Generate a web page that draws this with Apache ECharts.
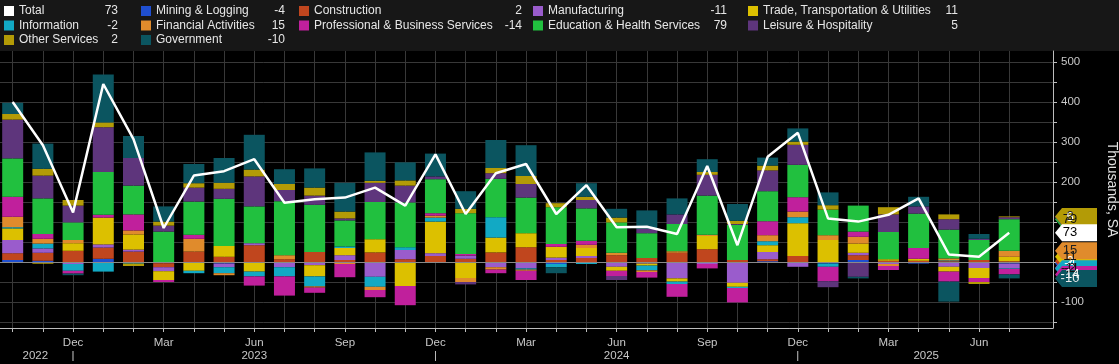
<!DOCTYPE html>
<html><head><meta charset="utf-8">
<script src="https://cdn.jsdelivr.net/npm/echarts@6/dist/echarts.min.js"></script>
<style>html,body{margin:0;padding:0;background:#000;}#c{width:1119px;height:364px;}</style>
</head><body><div id="c"></div>
<script>
// ---- data (thousands, SA, monthly change) ----
const categories = ['Oct 2022','Nov 2022','Dec 2022','Jan 2023','Feb 2023','Mar 2023','Apr 2023','May 2023','Jun 2023','Jul 2023','Aug 2023','Sep 2023','Oct 2023','Nov 2023','Dec 2023','Jan 2024','Feb 2024','Mar 2024','Apr 2024','May 2024','Jun 2024','Jul 2024','Aug 2024','Sep 2024','Oct 2024','Nov 2024','Dec 2024','Jan 2025','Feb 2025','Mar 2025','Apr 2025','May 2025','Jun 2025','Jul 2025'];
const mining        = [5,3,0,8,0,-3,0,-4,0,0,0,0,0,0,0,0,0,0,-5,0,0,0,0,0,0,2,0,-4,5,0,-4,0,0,-4];
const construction  = [17,20,28,28,26,-10,26,13,42,7,25,5,24,7,15,8,24,37,5,10,17,10,23,32,5,5,15,0,12,3,3,2,5,2];
const manufacturing = [33,11,-5,8,5,-10,0,-9,5,-13,-8,12,-37,23,7,8,-13,-16,6,5,-12,-4,-41,-5,-52,18,-12,0,6,-5,0,-12,-15,-11];
const trade         = [29,-4,19,67,38,-22,-22,27,-24,0,-28,18,33,-60,79,-40,37,35,27,20,-10,-5,-8,33,-10,17,82,55,23,4,5,-12,-25,11];
const information   = [3,12,-17,-24,-4,0,-6,-15,-12,-23,-25,4,-25,7,10,0,51,-3,-8,-5,0,-12,-6,0,-3,10,15,-8,0,0,0,2,0,-2];
const financial     = [26,12,8,0,10,0,32,-5,0,10,-3,-5,-8,0,5,-10,-6,-3,0,8,6,-4,4,3,0,15,14,12,17,-5,0,5,0,15];
const professional  = [50,12,-7,7,40,-5,10,0,-23,-48,-13,-33,-18,-48,6,4,-9,-23,7,10,-13,-14,-32,-11,-36,35,36,-36,13,-10,27,-25,-10,-14];
const education     = [96,89,44,107,72,76,83,118,92,135,118,65,93,112,85,102,96,89,92,81,76,62,68,98,88,75,81,64,65,68,86,72,50,79];
const leisure       = [97,57,42,112,69,15,35,25,75,28,23,5,48,42,7,-6,14,34,0,21,-10,11,24,52,2,52,50,-15,-37,44,18,26,3,5];
const other         = [14,17,14,12,-6,10,11,15,17,15,20,17,5,13,0,11,13,20,10,8,12,0,0,7,8,12,8,11,0,18,0,12,-5,2];
const government    = [28,63,-4,120,55,38,48,62,87,37,48,72,71,45,57,44,70,77,-15,34,22,46,40,32,42,20,33,32,-4,0,24,-50,12,-10];
const total         = [400,292,124,445,307,85,216,227,257,148,157,161,186,141,269,120,222,245,120,192,87,88,70,240,42,263,323,109,101,118,159,19,13,73];
const yLabels = [-100,0,100,200,300,400,500];

// ---- styling ----
const FONT = '"Liberation Sans", Arial, sans-serif';
const sectors = [
  {name:'Mining & Logging', data:mining, color:'#1f4fd0', txt:'#fff'},
  {name:'Construction', data:construction, color:'#c0461e', txt:'#fff'},
  {name:'Manufacturing', data:manufacturing, color:'#9a5ccc', txt:'#111'},
  {name:'Trade, Transportation & Utilities', data:trade, color:'#dcc000', txt:'#111'},
  {name:'Information', data:information, color:'#12a9c4', txt:'#111'},
  {name:'Financial Activities', data:financial, color:'#e08b2c', txt:'#222'},
  {name:'Professional & Business Services', data:professional, color:'#c0209c', txt:'#fff'},
  {name:'Education & Health Services', data:education, color:'#21c03f', txt:'#111'},
  {name:'Leisure & Hospitality', data:leisure, color:'#5e357c', txt:'#fff'},
  {name:'Other Services', data:other, color:'#b39b06', txt:'#222'},
  {name:'Government', data:government, color:'#0b5560', txt:'#e8e8e8'}
];
const XMIN = -0.42, XMAX = 34.45;
const TAG = 'path://M0,8.5L7,0L42,0L42,17L7,17Z';
const last = a => a[a.length-1];
const lastVal = {Total: last(total)};
sectors.forEach(s => lastVal[s.name] = last(s.data));

function tag(cum, val, color, txt){
  return {
    symbol: TAG, symbolSize:[42,17], symbolOffset:[23,0], silent:true, animation:false,
    itemStyle:{color:color},
    label:{show:true, position:'inside', offset:[-6,0], color:txt, fontSize:13, fontFamily:FONT, formatter:String(val)},
    data:[{coord:[XMAX, cum], value:val}]
  };
}

let pos = 0, neg = 0;
const series = sectors.map(s => {
  const v = last(s.data);
  let cum;
  if (v >= 0) { pos += v; cum = pos; } else { neg += v; cum = neg; }
  return {
    name:s.name, type:'bar', stack:'all', barWidth:21, clip:false,
    itemStyle:{color:s.color}, emphasis:{disabled:true},
    // value first so the value dimension is the stacked one; x = month index
    data:s.data.map((d,i)=>[d,i]), encode:{x:1, y:0},
    markPoint: tag(cum, v, s.color, s.txt)
  };
});
series.push({
  name:'Total', type:'line', symbol:'none', z:6,
  lineStyle:{color:'#ffffff', width:2.5}, itemStyle:{color:'#ffffff'},
  data:total.map((d,i)=>[i,d]),
  markLine:{silent:true, symbol:'none', animation:false, label:{show:false},
    lineStyle:{color:'#8a8a8a', width:1, type:'solid'}, data:[{yAxis:0}]},
  markPoint: tag(last(total), last(total), '#ffffff', '#000')
});

const monthTicks = categories.map((c,i)=>i);
const monthLabelIdx = categories.map((c,i)=>i).filter(i => /^(Dec|Mar|Jun|Sep)/.test(categories[i]));
const yearMarks = [[0.75,'2022'],[2,'|'],[8,'2023'],[14,'|'],[20,'2024'],[26,'|'],[30.25,'2025']];

const cols = [
  {left:4, names:['Total','Information','Other Services'], w:[72,27]},
  {left:141, names:['Mining & Logging','Financial Activities','Government'], w:[100,29]},
  {left:299, names:['Construction','Professional & Business Services'], w:[180,28]},
  {left:533, names:['Manufacturing','Education & Health Services'], w:[150,29]},
  {left:748, names:['Trade, Transportation & Utilities','Leisure & Hospitality'], w:[170,25]}
];
const legends = cols.map(c => ({
  orient:'vertical', left:c.left, top:5, itemWidth:10, itemHeight:10, itemGap:2.5,
  icon:'rect', selectedMode:false, padding:0, data:c.names,
  formatter: n => '{n|' + n + '}{v|' + lastVal[n] + '}',
  textStyle:{color:'#e6e6e6', fontSize:12, fontFamily:FONT,
    rich:{n:{width:c.w[0], color:'#e6e6e6', fontSize:12, fontFamily:FONT, lineHeight:12},
          v:{width:c.w[1], align:'right', color:'#e6e6e6', fontSize:12, fontFamily:FONT, lineHeight:12}}}
}));

const axisText = {color:'#c8c8c8', fontSize:11.5, fontFamily:FONT};
const option = {
  backgroundColor:'#000',
  animation:false,
  graphic:[{type:'rect', silent:true, z:-10, shape:{x:0,y:0,width:1119,height:51}, style:{fill:'#171717'}}],
  legend: legends,
  grid:{left:0, right:66, top:51, bottom:36, outerBoundsMode:'none', containLabel:false},
  xAxis:[{
    type:'value', min:XMIN, max:XMAX, position:'bottom',
    axisLine:{show:true, onZero:false, lineStyle:{color:'#bdbdbd', width:1}},
    axisTick:{show:true, length:4, lineStyle:{color:'#bdbdbd'}, customValues:monthTicks},
    splitLine:{show:true, lineStyle:{color:'#383838', width:1}},
    axisLabel:Object.assign({margin:9, customValues:monthLabelIdx,
      formatter:v => categories[Math.round(v)].slice(0,3)}, axisText)
  },{
    type:'value', min:XMIN, max:XMAX, position:'bottom',
    axisLine:{show:false, onZero:false}, axisTick:{show:false}, splitLine:{show:false},
    axisLabel:Object.assign({margin:22, customValues:yearMarks.map(m=>m[0]),
      formatter:v => { const m = yearMarks.find(m=>Math.abs(m[0]-v)<0.01); return m ? m[1] : ''; }}, axisText)
  }],
  yAxis:{
    type:'value', position:'right', min:-165, max:527.5,
    name:'Thousands, SA', nameLocation:'middle', nameRotate:-90, nameGap:52,
    nameTextStyle:{color:'#e0e0e0', fontSize:14, fontFamily:FONT},
    axisLine:{show:true, onZero:false, lineStyle:{color:'#bdbdbd', width:1}},
    axisTick:{show:true, length:4, lineStyle:{color:'#bdbdbd'}, customValues:[-150,-100,-50,0,50,100,150,200,250,300,350,400,450,500]},
    splitLine:{show:true, lineStyle:{color:'#383838', width:1}},
    axisLabel:Object.assign({margin:8, customValues:yLabels}, axisText)
  },
  series: series
};
const chart = echarts.init(document.getElementById('c'), null, {renderer:'canvas'});
chart.setOption(option);
</script></body></html>
